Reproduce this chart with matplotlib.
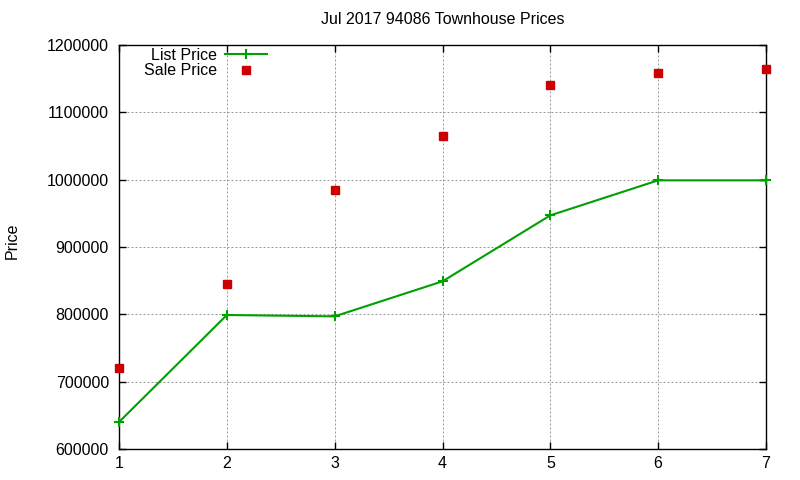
import matplotlib
matplotlib.use("Agg")
import matplotlib.pyplot as plt

plt.rcParams['font.family'] = ['Liberation Sans', 'DejaVu Sans']

months = [1, 2, 3, 4, 5, 6, 7]
list_price = [640000, 799000, 797000, 849000, 947000, 999000, 999000]
sale_price = [720000, 845000, 984000, 1065000, 1140000, 1159000, 1164000]
x_ticks = [1, 2, 3, 4, 5, 6, 7]
y_ticks = [600000, 700000, 800000, 900000, 1000000, 1100000, 1200000]
title = "Jul 2017 94086 Townhouse Prices"

FS = 11.5
fig = plt.figure(figsize=(8, 4.8), dpi=100)
L, R, T, B = 119, 766, 45, 449
ax = fig.add_axes([L / 800, 1 - B / 480, (R - L) / 800, (B - T) / 480])

ax.plot(months, list_price, color='#00a000', lw=1.5, marker='+', ms=6.5, mew=1.5,
        label='List Price', clip_on=False, zorder=3)
ax.plot(months, sale_price, linestyle='none', color='#cc0000', marker='s', ms=5.8,
        label='Sale Price', clip_on=False, zorder=4)

ax.set_xlim(1, 7)
ax.set_ylim(600000, 1200000)
ax.set_xticks(x_ticks)
ax.set_yticks(y_ticks)
ax.set_xticklabels([str(v) for v in x_ticks])
ax.set_yticklabels([str(v) for v in y_ticks])
ax.tick_params(axis='both', direction='in', length=5, width=1, labelsize=FS,
               top=True, right=True, colors='black')
ax.tick_params(axis='x', pad=5)
ax.tick_params(axis='y', pad=7.2)
for s in ax.spines.values():
    s.set_linewidth(1.0)
ax.grid(True, color='#999999', linestyle=(0, (2, 2)), linewidth=0.72)
ax.set_axisbelow(True)

fig.text((L + R) / 2 / 800, 1 - 20 / 480, title, ha='center', va='center', fontsize=FS)
fig.text(12 / 800, 1 - 241 / 480, 'Price', rotation=90, ha='center', va='center', fontsize=FS)

leg = ax.legend(loc='upper right', bbox_to_anchor=(267 / 800, 1 - 48 / 480),
                bbox_transform=fig.transFigure, frameon=False, markerfirst=False,
                numpoints=1, handlelength=2.6, handletextpad=0.5, borderpad=0,
                borderaxespad=0, labelspacing=0.02, fontsize=FS)

fig.savefig('out.png', dpi=100)
